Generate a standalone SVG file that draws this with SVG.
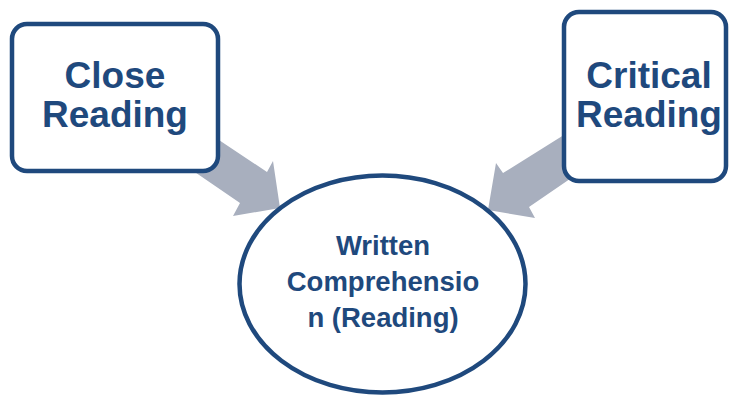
<svg xmlns="http://www.w3.org/2000/svg" width="730" height="396" viewBox="0 0 730 396">
  <style>
    .box { fill: #FFFFFF; stroke: #1F497D; stroke-width: 4.5; }
    .arrow { fill: #A8AFBE; stroke: none; }
    .big { font-family: "Liberation Sans", Arial, sans-serif; font-weight: bold; font-size: 37px; fill: #1F497D; text-anchor: middle; }
    .small { font-family: "Liberation Sans", Arial, sans-serif; font-weight: bold; font-size: 27.5px; fill: #1F497D; text-anchor: middle; }
  </style>
  <rect width="730" height="396" fill="#FFFFFF"/>
  <g id="connectors">
    <polygon class="arrow" points="192,122 267,172 273,161 280,208 233,216 240,203 167,153"/>
    <polygon class="arrow" points="583,123 503,173 496,163 488,210 535,218 529,207 583,170"/>
  </g>
  <g id="close-reading">
    <rect class="box" x="12" y="24" width="206" height="147" rx="15" ry="15"/>
    <text class="big" x="115" y="88">Close</text>
    <text class="big" x="115" y="127">Reading</text>
  </g>
  <g id="critical-reading">
    <rect class="box" x="564" y="12" width="162" height="169" rx="15" ry="15"/>
    <text class="big" x="649" y="88">Critical</text>
    <text class="big" x="649" y="127">Reading</text>
  </g>
  <g id="written-comprehension">
    <ellipse class="box" cx="382.5" cy="284" rx="143" ry="108.5"/>
    <text class="small" x="383" y="255">Written</text>
    <text class="small" x="383" y="291">Comprehensio</text>
    <text class="small" x="383" y="327">n (Reading)</text>
  </g>
</svg>
